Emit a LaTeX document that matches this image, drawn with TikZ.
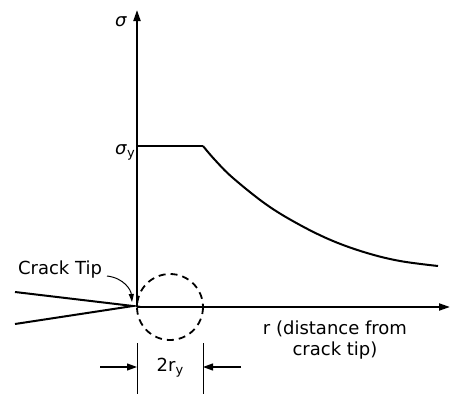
\documentclass[tikz,border=0pt]{standalone}
\usepackage{fontspec}
\setmainfont{DejaVu Sans}
\usetikzlibrary{arrows.meta}
\tikzset{
  ax/.style={line width=2pt,-{Triangle[length=11pt,width=7pt]}},
  ln/.style={line width=2pt},
  dimarrow/.style={line width=1.2pt,-{Triangle[length=10pt,width=7pt]}},
  lbl/.style={font=\fontsize{18}{21}\selectfont, inner sep=0pt},
}
\begin{document}
\begin{tikzpicture}[x=1pt,y=-1pt]
\useasboundingbox (0,0) rectangle (451,394);
% key coordinates
\coordinate (O) at (137,307);
\coordinate (top) at (137,10);
\coordinate (rend) at (450,307);
\coordinate (ys) at (137,146);
\coordinate (pe) at (203,146);
\coordinate (cu) at (15,292);
\coordinate (cl) at (15,324);
\coordinate (tip) at (133,306);
% axes
\draw[ax] (O) -- (top);
\draw[ax] (O) -- (rend);
% plateau and curve
\draw[ln] (ys) -- (pe);
\draw[ln] plot[smooth, tension=0.6] coordinates {(pe) (215,160) (233,178) (267,205) (300,225) (333,241) (367,253) (400,261) (438,266)};
% crack
\draw[ln] (cu) -- (tip) -- (cl);
% dashed plastic zone
\draw[line width=1.8pt, dash pattern=on 7pt off 5pt] (170,307) circle[radius=33];
% labels
\node[lbl] (sig) at (121,22) {\textit{σ}};
\node[lbl, anchor=east] (sigy) at (135,152) {\textit{σ}\raisebox{-0.3ex}{\fontsize{13}{13}\selectfont y}};
\node[lbl] (ct) at (60,270) {Crack Tip};
\node[lbl, align=center] (rlab) at (335,340) {r (distance from\\crack tip)};
% crack tip pointer
\coordinate (cts) at (107,276);
\draw[line width=1pt,-{Triangle[length=8pt,width=5pt]}] (cts) .. controls (124,278) and (131,290) .. (132,302);
% dimension
\coordinate (e1a) at (137,343);
\coordinate (e1b) at (137,394);
\coordinate (e2a) at (203,343);
\coordinate (e2b) at (203,394);
\draw[line width=1pt] (e1a) -- (e1b);
\draw[line width=1pt] (e2a) -- (e2b);
\coordinate (d1) at (100,367);
\coordinate (d1e) at (137,367);
\coordinate (d2) at (241,367);
\coordinate (d2e) at (203,367);
\draw[dimarrow] (d1) -- (d1e);
\draw[dimarrow] (d2) -- (d2e);
\node[lbl] (ry) at (170,368) {2r\raisebox{-0.3ex}{\fontsize{13}{13}\selectfont y}};
\end{tikzpicture}
\end{document}
